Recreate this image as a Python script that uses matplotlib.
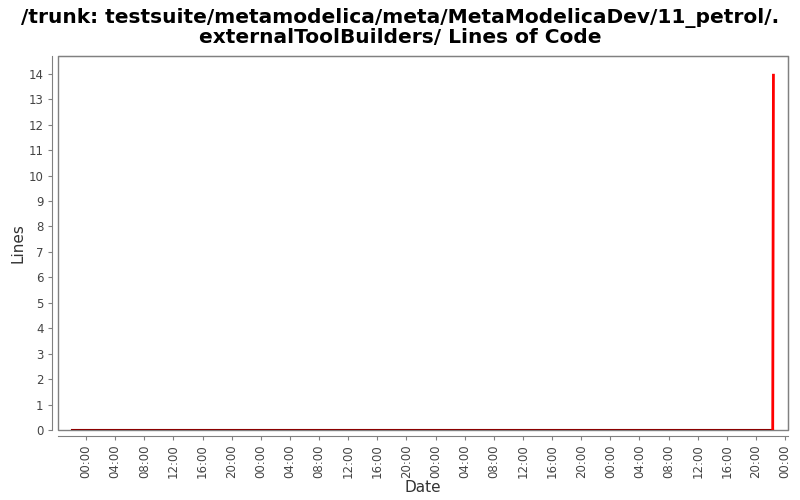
import datetime as dt
import matplotlib
matplotlib.use("Agg")
import matplotlib.pyplot as plt
import matplotlib.dates as mdates
from matplotlib.patches import Rectangle

# data
start = dt.datetime(2009, 6, 1)
times = [start - dt.timedelta(hours=1.9),
         start + dt.timedelta(hours=94.3),
         start + dt.timedelta(hours=94.4)]
lines = [0, 0, 14]

title = "/trunk: testsuite/metamodelica/meta/MetaModelicaDev/11_petrol/.\nexternalToolBuilders/ Lines of Code"

fig = plt.figure(figsize=(8, 5), dpi=100)
ax = fig.add_axes([0.0725, 0.14, 0.9125, 0.748])

ax.plot(times[:2], lines[:2], color="#8b0000", lw=1.5, zorder=3)
ax.plot(times[1:], lines[1:], color="red", lw=2, zorder=3, solid_capstyle="butt")

ax.set_xlim(start - dt.timedelta(hours=3.85), start + dt.timedelta(hours=96.4))
ax.set_ylim(0, 14.7)
ax.set_yticks(range(0, 15))
ax.xaxis.set_major_locator(mdates.HourLocator(byhour=range(0, 24, 4)))
ax.xaxis.set_major_formatter(mdates.DateFormatter("%H:%M"))
ax.tick_params(axis="x", labelrotation=90)

gray = "#808080"
for s in ["top", "right"]:
    ax.spines[s].set_color(gray)
for s in ["left", "bottom"]:
    ax.spines[s].set_position(("outward", 4))
    ax.spines[s].set_color(gray)
ax.add_patch(Rectangle((0, 0), 1, 1, transform=ax.transAxes, fill=False,
                       edgecolor=gray, lw=1, clip_on=False, zorder=1))
ax.tick_params(colors=gray, labelcolor="#444444", labelsize=8.5, length=3)

ax.set_xlabel("Date", fontsize=11, color="#333333", labelpad=1)
ax.set_ylabel("Lines", fontsize=11, color="#333333", labelpad=2)
fig.suptitle(title, fontsize=14.5, fontweight="bold", y=0.985, linespacing=1.05)

fig.savefig("out.png")
